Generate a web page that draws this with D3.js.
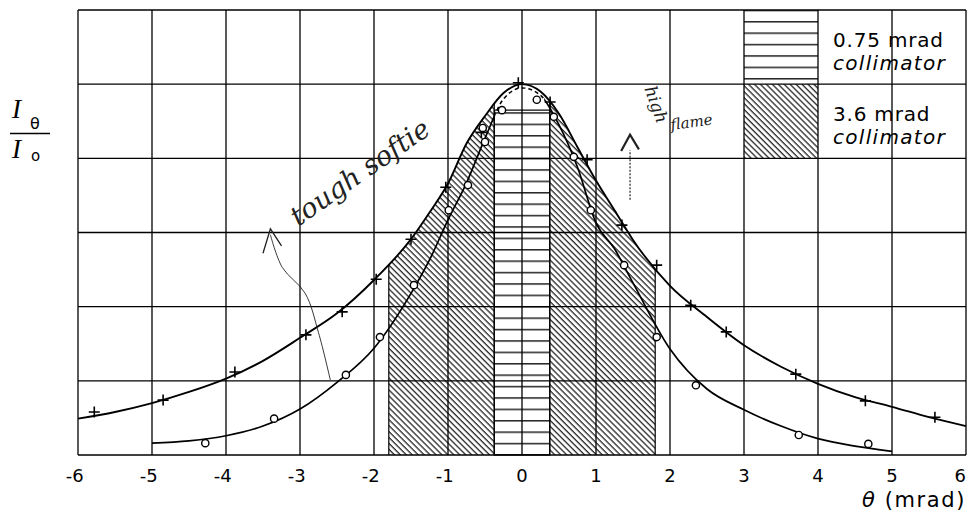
<!DOCTYPE html>
<html><head><meta charset="utf-8">
<script src="https://cdn.jsdelivr.net/npm/d3@7"></script>
<style>body{margin:0;background:#fff}svg{display:block}</style>
</head><body>
<svg id="c" width="968" height="514"></svg>
<script>
// ---- data ----
const xTicks = [-6,-5,-4,-3,-2,-1,0,1,2,3,4,5,6];
const yGrid = [0,1,2,3,4,5,6];
// curve through "+" points (3.6 mrad collimator)
const outerX = [-6,-5.5,-5,-4.5,-4,-3.5,-3,-2.5,-2,-1.5,-1.25,-1,-0.75,-0.5,-0.25,0,0.25,0.5,0.75,1,1.25,1.5,2,2.5,3,3.5,4,4.5,5,5.5,6];
const outerY = [0.49,0.58,0.70,0.85,1.03,1.27,1.58,1.91,2.36,2.91,3.27,3.66,4.20,4.57,4.88,5.00,4.90,4.60,4.15,3.70,3.30,2.90,2.28,1.86,1.48,1.19,0.96,0.78,0.65,0.51,0.39];
// curve through "o" points (0.75 mrad collimator)
const innerX = [-5,-4.5,-4,-3.5,-3,-2.5,-2,-1.5,-1.25,-1,-0.75,-0.5,-0.25,0,0.25,0.5,0.75,1,1.25,1.5,2,2.5,3,3.5,4,4.5,5];
const innerY = [0.16,0.19,0.26,0.39,0.62,0.98,1.44,2.18,2.63,3.17,3.67,4.27,4.80,4.95,4.85,4.45,3.88,3.13,2.78,2.32,1.43,0.89,0.61,0.39,0.22,0.12,0.05];
const plusX = [-5.78,-4.85,-3.88,-2.92,-2.43,-1.97,-1.5,-1.03,-0.55,-0.05,0.38,0.88,1.35,1.82,2.28,2.76,3.7,4.64,5.58];
const plusY = [0.58,0.74,1.12,1.62,1.93,2.37,2.91,3.61,4.35,5.02,4.76,3.98,3.10,2.56,2.02,1.66,1.09,0.73,0.51];
const circX = [-4.28,-3.35,-2.38,-1.92,-1.46,-0.99,-0.73,-0.5,-0.53,-0.27,0.2,0.43,0.7,0.93,1.38,1.82,2.35,3.74,4.68];
const circY = [0.16,0.49,1.08,1.59,2.29,3.30,3.64,4.22,4.41,4.65,4.79,4.56,4.02,3.30,2.56,1.59,0.94,0.27,0.15];
const narrowHalf = 0.375, wideHalf = 1.8, narrowTop = 4.65;
const dashedFrom = -0.36, dashedTo = 0.3;
const legendLines = [["0.75 mrad","collimator"],["3.6 mrad","collimator"]];

// ---- layout ----
const svg = d3.select("#c");
const L = 78, T = 10, W = 888, H = 445;
const x = d3.scaleLinear().domain([-6,6]).range([L, L+W]);
const y = d3.scaleLinear().domain([0,6]).range([T+H, T]);

const outer = outerX.map((v,i)=>[v, outerY[i]]);
const inner = innerX.map((v,i)=>[v, innerY[i]]);
const line = d3.line().x(d=>x(d[0])).y(d=>y(d[1])).curve(d3.curveMonotoneX);
const area = d3.area().x(d=>x(d[0])).y0(y(0)).y1(d=>y(d[1])).curve(d3.curveMonotoneX);

const defs = svg.append("defs");
const ph = defs.append("pattern").attr("id","hor").attr("patternUnits","userSpaceOnUse")
  .attr("width",10).attr("height",11.4).attr("y", y(0)-0.8);
ph.append("line").attr("x1",0).attr("x2",10).attr("y1",0.8).attr("y2",0.8).attr("stroke","#000").attr("stroke-width",1.3);
const pd = defs.append("pattern").attr("id","diag").attr("patternUnits","userSpaceOnUse")
  .attr("width",10).attr("height",4.2).attr("patternTransform","rotate(45)");
pd.append("line").attr("x1",0).attr("x2",10).attr("y1",0.7).attr("y2",0.7).attr("stroke","#000").attr("stroke-width",1.1);

const cw = defs.append("clipPath").attr("id","wide");
[[-wideHalf,-narrowHalf],[narrowHalf,wideHalf]].forEach(r=>{
  cw.append("rect").attr("x",x(r[0])).attr("width",x(r[1])-x(r[0])).attr("y",T).attr("height",H);
});
defs.append("clipPath").attr("id","under").append("path").attr("d", area(outer));
defs.append("clipPath").attr("id","mid").append("rect")
  .attr("x",x(dashedFrom)).attr("width",x(dashedTo)-x(dashedFrom)).attr("y",0).attr("height",514);
const co = defs.append("clipPath").attr("id","outside");
co.append("rect").attr("x",0).attr("width",x(dashedFrom)).attr("y",0).attr("height",514);
co.append("rect").attr("x",x(dashedTo)).attr("width",968-x(dashedTo)).attr("y",0).attr("height",514);

svg.append("rect").attr("width",968).attr("height",514).attr("fill","#fff");

// hatched regions
svg.append("path").attr("d", area(outer)).attr("fill","url(#diag)").attr("clip-path","url(#wide)");
svg.append("rect").attr("x",x(-narrowHalf)).attr("width",x(narrowHalf)-x(-narrowHalf))
  .attr("y",y(narrowTop)).attr("height",y(0)-y(narrowTop)).attr("fill","url(#hor)")
  .attr("stroke","#000").attr("stroke-width",1.2);
svg.append("g").attr("clip-path","url(#under)").selectAll("line").data([-wideHalf,wideHalf,-narrowHalf,narrowHalf]).join("line")
  .attr("x1",d=>x(d)).attr("x2",d=>x(d)).attr("y1",y(0)).attr("y2",y(6)).attr("stroke","#000").attr("stroke-width",1.2);

// legend swatches
svg.append("rect").attr("x",x(3)).attr("y",y(6)).attr("width",x(4)-x(3)).attr("height",y(5)-y(6)).attr("fill","url(#hor)");
svg.append("rect").attr("x",x(3)).attr("y",y(5)).attr("width",x(4)-x(3)).attr("height",y(4)-y(5)).attr("fill","url(#diag)");

// grid
const g = svg.append("g").attr("stroke","#000").attr("stroke-width",1.3);
g.selectAll(".vx").data(xTicks).join("line").attr("x1",d=>x(d)).attr("x2",d=>x(d)).attr("y1",y(0)).attr("y2",y(6));
g.selectAll(".hy").data(yGrid).join("line").attr("y1",d=>y(d)).attr("y2",d=>y(d)).attr("x1",x(-6)).attr("x2",x(6));

// curves
svg.append("path").attr("d", line(outer)).attr("fill","none").attr("stroke","#000").attr("stroke-width",1.9);
svg.append("path").attr("d", line(inner)).attr("fill","none").attr("stroke","#000").attr("stroke-width",1.7).attr("clip-path","url(#outside)");
svg.append("path").attr("d", line(inner)).attr("fill","none").attr("stroke","#000").attr("stroke-width",1.5)
  .attr("stroke-dasharray","4,3").attr("clip-path","url(#mid)");

// markers
const pts = plusX.map((v,i)=>[v,plusY[i]]);
const pm = svg.append("g").attr("stroke","#000").attr("stroke-width",1.6);
pm.selectAll("path").data(pts).join("path")
  .attr("d",d=>`M${x(d[0])-5.5},${y(d[1])}h11M${x(d[0])},${y(d[1])-5.5}v11`);
const cps = circX.map((v,i)=>[v,circY[i]]);
svg.append("g").selectAll("circle").data(cps).join("circle")
  .attr("cx",d=>x(d[0])).attr("cy",d=>y(d[1])).attr("r",3.6)
  .attr("fill","#fff").attr("stroke","#000").attr("stroke-width",1.4);

// tick labels
svg.append("g").selectAll("text").data(xTicks).join("text")
  .attr("x",d=>Math.min(x(d)+5.7, 966)).attr("y",482).attr("text-anchor","end")
  .attr("font-family","DejaVu Sans").attr("font-size",18).text(d=>String(d));
svg.append("text").attr("x",x(6)).attr("y",507).attr("text-anchor","end")
  .attr("font-family","DejaVu Sans").attr("font-size",21).attr("letter-spacing",1.6)
  .html('<tspan font-style="italic">\u03b8</tspan> (mrad)');

// legend text
legendLines.forEach((ln,i)=>{
  const top = y(6 - i);
  svg.append("text").attr("x",x(4)+15).attr("y",top+37).attr("font-family","DejaVu Sans").attr("font-size",20)
    .attr("letter-spacing",0.8).text(ln[0]);
  svg.append("text").attr("x",x(4)+15).attr("y",top+60).attr("font-family","DejaVu Sans").attr("font-style","italic")
    .attr("font-size",20).attr("letter-spacing",1.3).text(ln[1]);
});

// y label I_theta / I_o
const yl = svg.append("g").attr("font-family","Liberation Serif");
yl.append("text").attr("x",12).attr("y",118).attr("font-size",27).attr("font-style","italic").text("I");
yl.append("text").attr("x",30).attr("y",129).attr("font-size",16).attr("font-family","DejaVu Sans").text("\u03b8");
yl.append("line").attr("x1",10).attr("x2",50).attr("y1",133.5).attr("y2",133.5).attr("stroke","#000").attr("stroke-width",1.5);
yl.append("text").attr("x",12).attr("y",158).attr("font-size",27).attr("font-style","italic").text("I");
yl.append("text").attr("x",31).attr("y",161).attr("font-size",15).attr("font-family","DejaVu Sans").text("o");

// handwritten annotations
const ann = svg.append("g").attr("font-family","DejaVu Serif").attr("font-style","italic").attr("fill","#222");
ann.append("text").attr("transform",`translate(${x(-2.12)},${y(3.71)}) rotate(-35)`).attr("text-anchor","middle")
  .attr("font-size",27).attr("font-weight",200).text("tough softie");
ann.append("text").attr("transform",`translate(${x(1.74)},${y(4.7)}) rotate(70)`).attr("text-anchor","middle")
  .attr("font-size",17).attr("font-weight",200).text("high");
ann.append("text").attr("transform",`translate(${x(2.3)},${y(4.42)}) rotate(-8)`).attr("text-anchor","middle")
  .attr("font-size",15).attr("font-weight",200).text("flame");
const arrL = [[-2.59,1.01],[-2.75,1.65],[-2.93,2.18],[-3.24,2.53],[-3.4,2.97]];
svg.append("path").attr("d", d3.line().x(d=>x(d[0])).y(d=>y(d[1])).curve(d3.curveCatmullRom)(arrL))
  .attr("fill","none").attr("stroke","#222").attr("stroke-width",0.9);
svg.append("path").attr("d",`M${x(-3.5)},${y(2.72)}L${x(-3.4)},${y(3.05)}L${x(-3.25)},${y(2.82)}`)
  .attr("fill","none").attr("stroke","#222").attr("stroke-width",1.3);
svg.append("line").attr("x1",x(1.46)).attr("x2",x(1.46)).attr("y1",y(3.44)).attr("y2",y(4.11))
  .attr("stroke","#222").attr("stroke-width",1.2).attr("stroke-dasharray","2,1.5");
svg.append("path").attr("d",`M${x(1.34)},${y(4.1)}L${x(1.46)},${y(4.32)}L${x(1.58)},${y(4.12)}`)
  .attr("fill","none").attr("stroke","#222").attr("stroke-width",2.2);
</script>
</body></html>
